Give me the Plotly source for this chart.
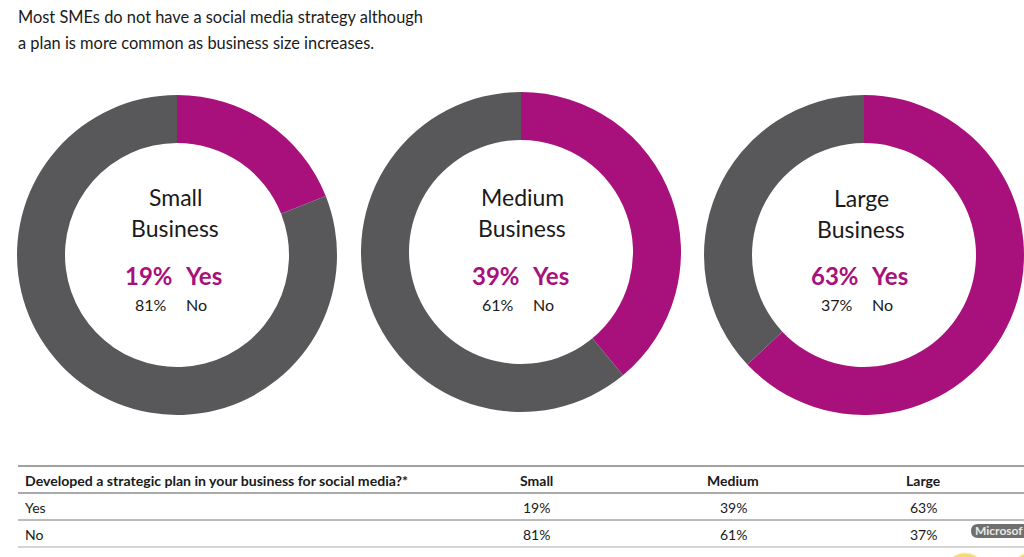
import plotly.graph_objects as go

W = 1024
H = 557

# Data
sizes = ["Small", "Medium", "Large"]
yes_values = [19, 39, 63]
no_values = [81, 61, 37]
answer_labels = ["Yes", "No"]

title_lines = [
    "Most SMEs do not have a social media strategy although",
    "a plan is more common as business size increases.",
]
table_question = "Developed a strategic plan in your business for social media?*"

PURPLE = "#a8117c"
GREY = "#58585a"
FONT = "Lato"

# pixel layout of each donut: centre x, centre y
centers = [(177, 255), (521, 252), (864, 255)]
radius = 160
label_x = [175, 522, 861]
label_top = [197, 197, 198]
table_x = [536, 733, 923]


def px(x):
    return x / W


def py(y):
    return 1 - y / H


def text(x, y, s, size, color="#1a1a1a", anchor="center", weight=None):
    fnt = dict(family=FONT, size=size, color=color)
    if weight:
        fnt["weight"] = weight
    return dict(
        x=px(x), y=py(y), xref="paper", yref="paper", text=s, showarrow=False,
        xanchor=anchor, yanchor="middle", font=fnt,
    )


fig = go.Figure()
annotations = []

for i, name in enumerate(sizes):
    cx, cy = centers[i]
    fig.add_trace(
        go.Pie(
            labels=answer_labels,
            values=[yes_values[i], no_values[i]],
            hole=0.7,
            sort=False,
            direction="clockwise",
            rotation=0,
            textinfo="none",
            marker=dict(colors=[PURPLE, GREY], line=dict(width=0)),
            domain=dict(
                x=[px(cx - radius), min(px(cx + radius), 1)],
                y=[py(cy + radius), py(cy - radius)],
            ),
            showlegend=False,
        )
    )
    lx = label_x[i]
    top = label_top[i]
    annotations.append(text(lx, top, name, 23))
    annotations.append(text(lx, top + 31, "Business", 23))
    annotations.append(text(lx - 26, 276, f"{yes_values[i]}%", 24, PURPLE, weight=700))
    annotations.append(text(lx + 28, 276, answer_labels[0], 24, PURPLE, weight=700))
    annotations.append(text(lx - 24, 304, f"{no_values[i]}%", 16))
    annotations.append(text(lx + 21, 304, answer_labels[1], 16))

    # table columns
    annotations.append(text(table_x[i], 480, name, 14, weight=700))
    annotations.append(text(table_x[i], 507, f"{yes_values[i]}%", 14))
    annotations.append(text(table_x[i], 534, f"{no_values[i]}%", 14))

annotations.append(text(16, 17, title_lines[0], 16.4, anchor="left"))
annotations.append(text(16, 42, title_lines[1], 16.4, anchor="left"))
annotations.append(text(23, 480, table_question, 14.1, anchor="left", weight=700))
annotations.append(text(23, 507, answer_labels[0], 14, anchor="left"))
annotations.append(text(23, 534, answer_labels[1], 14, anchor="left"))
annotations.append(text(1025, 530, "Microsof", 12, "#e8e8e8", anchor="right", weight=700))

shapes = []
for y, col, w in [(466, "#444444", 1), (493, "#555555", 1), (520, "#777777", 1), (547, "#aaaaaa", 1)]:
    shapes.append(dict(type="line", xref="paper", yref="paper", x0=px(18), x1=1, y0=py(y), y1=py(y),
                       line=dict(color=col, width=w)))
# stray tooltip pill and desktop icons at bottom right of the screenshot
shapes.append(dict(
    type="path", xref="paper", yref="paper", fillcolor="#6f6f6f", line=dict(width=0),
    path=f"M {px(1024)} {py(524)} L {px(978)} {py(524)} Q {px(971)} {py(524)} {px(971)} {py(531)} "
         f"Q {px(971)} {py(538)} {px(978)} {py(538)} L {px(1024)} {py(538)} Z",
))
for x0, x1 in [(944, 986), (1010, 1050)]:
    shapes.append(dict(type="circle", xref="paper", yref="paper", x0=px(x0), x1=px(x1),
                       y0=py(597), y1=py(553), fillcolor="#f6dc6e", line=dict(color="#f3eec8", width=1)))

fig.update_layout(
    width=W,
    height=H,
    margin=dict(l=0, r=0, t=0, b=0),
    paper_bgcolor="white",
    plot_bgcolor="white",
    annotations=annotations,
    shapes=shapes,
)

fig.write_html("out.html", config=dict(displayModeBar=False), post_script="document.body.style.margin='0';")
